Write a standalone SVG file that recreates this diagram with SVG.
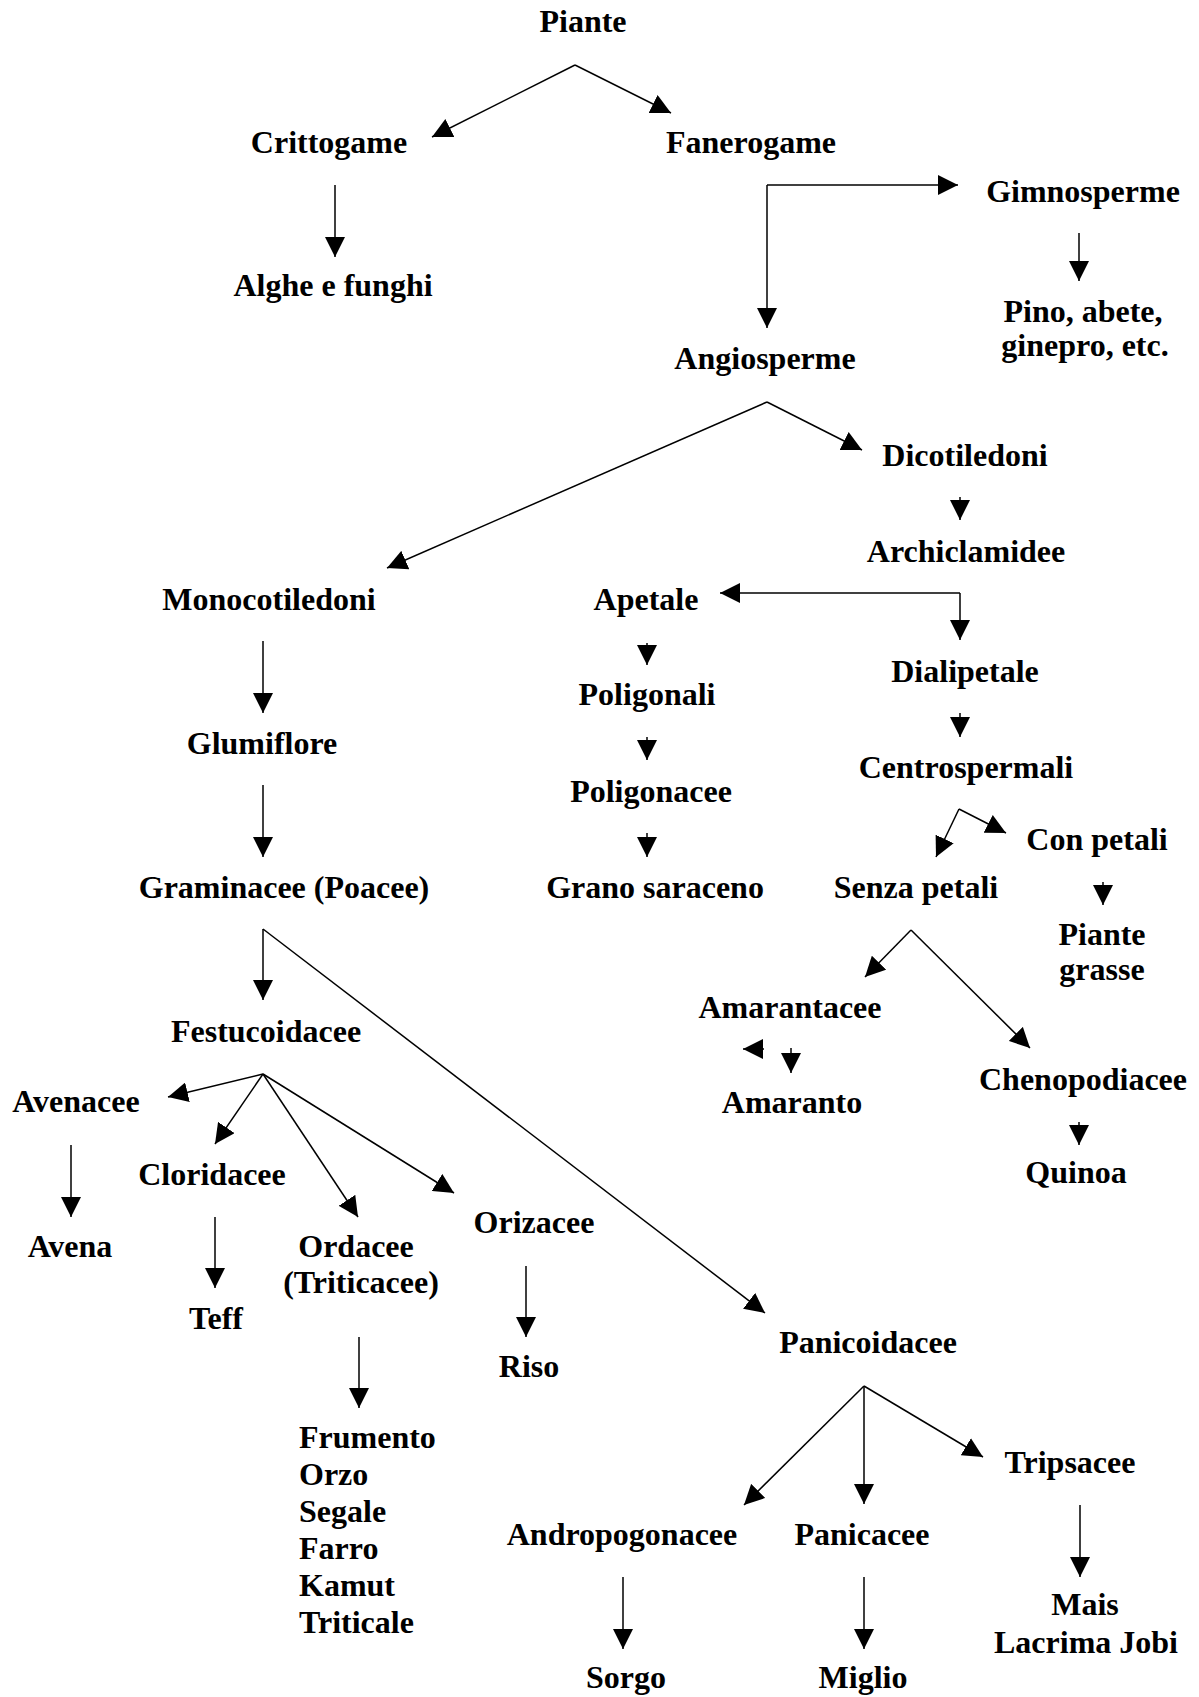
<svg xmlns="http://www.w3.org/2000/svg" width="1199" height="1697" viewBox="0 0 1199 1697">
<style>
text{font-family:"Liberation Serif","Times New Roman",serif;font-weight:bold;font-size:32px;fill:#000;text-anchor:middle}
.l{text-anchor:start}
#connectors line{stroke:#000;stroke-width:1.5;marker-end:url(#ah)}
</style>
<defs>
<marker id="ah" markerUnits="userSpaceOnUse" markerWidth="20" markerHeight="20" refX="20" refY="10" orient="auto" viewBox="0 0 20 20">
<path d="M0,0 L20,10 L0,20 z" fill="#000"/>
</marker>
</defs>
<rect width="1199" height="1697" fill="#fff"/>
<g id="connectors">
<line x1="575" y1="65" x2="432" y2="137"/>
<line x1="575" y1="65" x2="671" y2="113"/>
<line x1="335" y1="185" x2="335" y2="257"/>
<line x1="767" y1="185" x2="958" y2="185"/>
<line x1="767" y1="185" x2="767" y2="328"/>
<line x1="1079" y1="233" x2="1079" y2="281"/>
<line x1="767" y1="402" x2="862" y2="450"/>
<line x1="767" y1="402" x2="387" y2="568"/>
<line x1="960" y1="497" x2="960" y2="520"/>
<line x1="960" y1="593" x2="720" y2="593"/>
<line x1="960" y1="593" x2="960" y2="640"/>
<line x1="647" y1="643" x2="647" y2="665"/>
<line x1="960" y1="713" x2="960" y2="737"/>
<line x1="647" y1="737" x2="647" y2="760"/>
<line x1="647" y1="833" x2="647" y2="857"/>
<line x1="959" y1="809" x2="936" y2="857"/>
<line x1="959" y1="809" x2="1006" y2="833"/>
<line x1="1103" y1="882" x2="1103" y2="905"/>
<line x1="911" y1="930" x2="865" y2="977"/>
<line x1="911" y1="930" x2="1030" y2="1048"/>
<line x1="764" y1="1049" x2="743" y2="1049"/>
<line x1="791" y1="1048" x2="791" y2="1073"/>
<line x1="1079" y1="1122" x2="1079" y2="1145"/>
<line x1="263" y1="641" x2="263" y2="713"/>
<line x1="263" y1="785" x2="263" y2="857"/>
<line x1="263" y1="929" x2="263" y2="1000"/>
<line x1="263" y1="929" x2="765" y2="1313"/>
<line x1="263" y1="1074" x2="168" y2="1097"/>
<line x1="263" y1="1074" x2="215" y2="1144"/>
<line x1="263" y1="1074" x2="358" y2="1217"/>
<line x1="263" y1="1074" x2="454" y2="1193"/>
<line x1="71" y1="1145" x2="71" y2="1217"/>
<line x1="215" y1="1217" x2="215" y2="1288"/>
<line x1="359" y1="1337" x2="359" y2="1408"/>
<line x1="526" y1="1266" x2="526" y2="1337"/>
<line x1="864" y1="1386" x2="744" y2="1505"/>
<line x1="864" y1="1386" x2="864" y2="1504"/>
<line x1="864" y1="1386" x2="983" y2="1457"/>
<line x1="1080" y1="1505" x2="1080" y2="1577"/>
<line x1="623" y1="1577" x2="623" y2="1649"/>
<line x1="864" y1="1577" x2="864" y2="1649"/>
</g>
<g id="n-piante"><text x="583" y="32">Piante</text></g>
<g id="n-crittogame"><text x="329" y="153">Crittogame</text></g>
<g id="n-fanerogame"><text x="751" y="153">Fanerogame</text></g>
<g id="n-alghe"><text x="333" y="296">Alghe e funghi</text></g>
<g id="n-gimnosperme"><text x="1083" y="202">Gimnosperme</text></g>
<g id="n-pino"><text x="1083" y="322">Pino, abete,</text><text x="1085" y="356">ginepro, etc.</text></g>
<g id="n-angiosperme"><text x="765" y="369">Angiosperme</text></g>
<g id="n-dicotiledoni"><text x="965" y="466">Dicotiledoni</text></g>
<g id="n-monocotiledoni"><text x="269" y="610">Monocotiledoni</text></g>
<g id="n-archiclamidee"><text x="966" y="562">Archiclamidee</text></g>
<g id="n-apetale"><text x="646" y="610">Apetale</text></g>
<g id="n-dialipetale"><text x="965" y="682">Dialipetale</text></g>
<g id="n-poligonali"><text x="647" y="705">Poligonali</text></g>
<g id="n-centrospermali"><text x="966" y="778">Centrospermali</text></g>
<g id="n-poligonacee"><text x="651" y="802">Poligonacee</text></g>
<g id="n-grano"><text x="655" y="898">Grano saraceno</text></g>
<g id="n-conpetali"><text x="1097" y="850">Con petali</text></g>
<g id="n-senzapetali"><text x="916" y="898">Senza petali</text></g>
<g id="n-piantegrasse"><text x="1102" y="945">Piante</text><text x="1102" y="980">grasse</text></g>
<g id="n-amarantacee"><text x="790" y="1018">Amarantacee</text></g>
<g id="n-amaranto"><text x="792" y="1113">Amaranto</text></g>
<g id="n-chenopodiacee"><text x="1083" y="1090">Chenopodiacee</text></g>
<g id="n-quinoa"><text x="1076" y="1183">Quinoa</text></g>
<g id="n-glumiflore"><text x="262" y="754">Glumiflore</text></g>
<g id="n-graminacee"><text x="284" y="898">Graminacee (Poacee)</text></g>
<g id="n-festucoidacee"><text x="266" y="1042">Festucoidacee</text></g>
<g id="n-avenacee"><text x="76" y="1112">Avenacee</text></g>
<g id="n-cloridacee"><text x="212" y="1185">Cloridacee</text></g>
<g id="n-ordacee"><text x="356" y="1257">Ordacee</text><text x="361" y="1293">(Triticacee)</text></g>
<g id="n-orizacee"><text x="534" y="1233">Orizacee</text></g>
<g id="n-avena"><text x="70" y="1257">Avena</text></g>
<g id="n-teff"><text x="216" y="1329">Teff</text></g>
<g id="n-riso"><text x="529" y="1377">Riso</text></g>
<g id="n-cereali"><text class="l" x="299" y="1448">Frumento</text><text class="l" x="299" y="1485">Orzo</text><text class="l" x="299" y="1522">Segale</text><text class="l" x="299" y="1559">Farro</text><text class="l" x="299" y="1596">Kamut</text><text class="l" x="299" y="1633">Triticale</text></g>
<g id="n-panicoidacee"><text x="868" y="1353">Panicoidacee</text></g>
<g id="n-tripsacee"><text x="1070" y="1473">Tripsacee</text></g>
<g id="n-andropogonacee"><text x="622" y="1545">Andropogonacee</text></g>
<g id="n-panicacee"><text x="862" y="1545">Panicacee</text></g>
<g id="n-mais"><text x="1085" y="1615">Mais</text><text x="1086" y="1653">Lacrima Jobi</text></g>
<g id="n-sorgo"><text x="626" y="1688">Sorgo</text></g>
<g id="n-miglio"><text x="863" y="1688">Miglio</text></g>
</svg>
